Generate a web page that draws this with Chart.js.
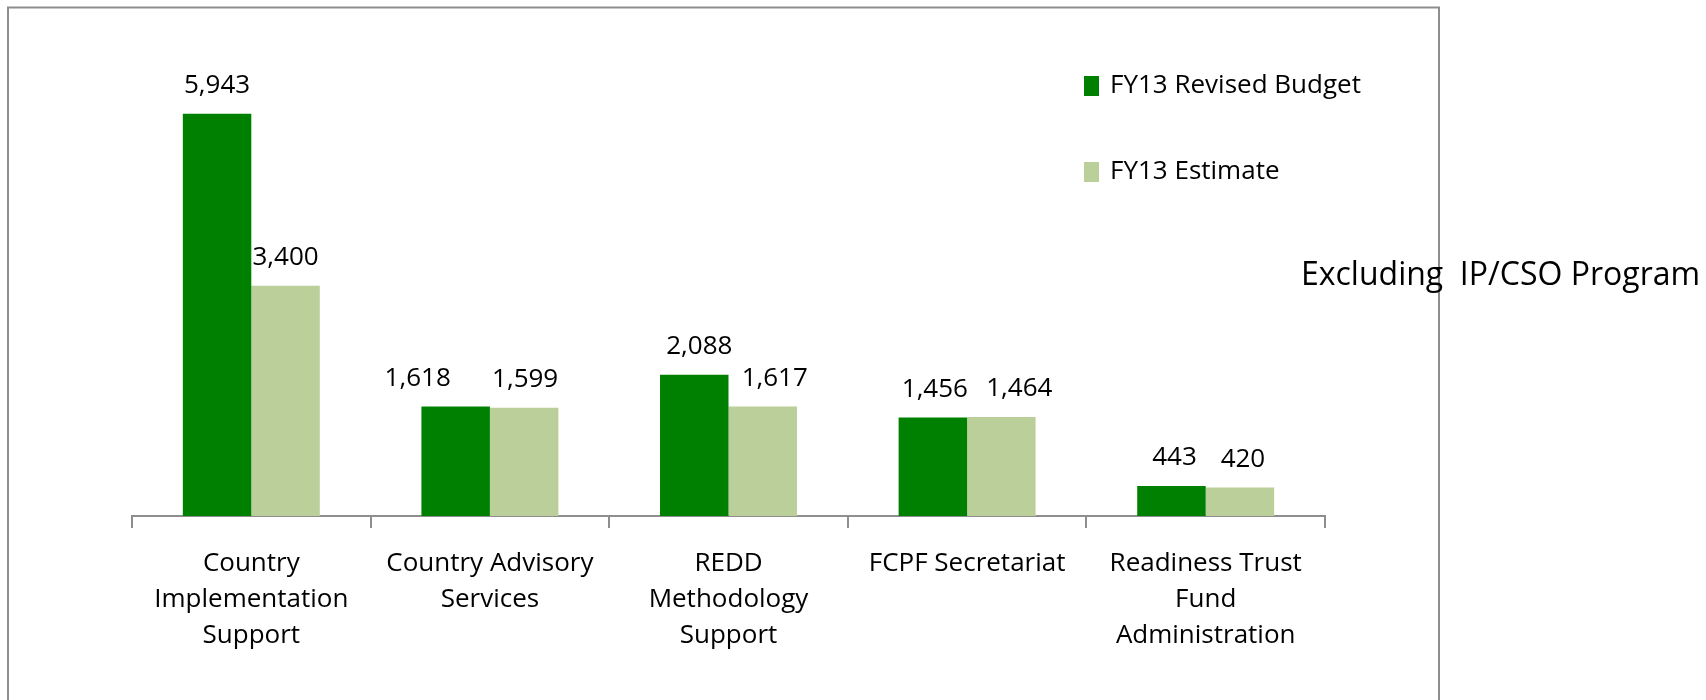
<!DOCTYPE html>
<html>
<head>
<meta charset="utf-8">
<script src="https://cdn.jsdelivr.net/npm/chart.js@4.4.1/dist/chart.umd.min.js"></script>
<style>
  html, body { margin: 0; padding: 0; background: #ffffff; }
  #wrap { position: relative; width: 1706px; height: 700px; }
</style>
</head>
<body>
<div id="wrap"><canvas id="c" width="1706" height="700"></canvas></div>
<script>
// ---- data ----
const categories = [
  ['Country', 'Implementation', 'Support'],
  ['Country Advisory', 'Services'],
  ['REDD', 'Methodology', 'Support'],
  ['FCPF Secretariat'],
  ['Readiness Trust', 'Fund', 'Administration']
];
const seriesNames = ['FY13 Revised Budget', 'FY13 Estimate'];
const revisedBudget = [5943, 1618, 2088, 1456, 443];
const estimate = [3400, 1599, 1617, 1464, 420];
const noteText = 'Excluding  IP/CSO Program';

// ---- style ----
const FONT = "'Open Sans', 'DejaVu Sans', sans-serif";
const colors = ['#008000', '#BBCF9A'];
// horizontal nudges of value labels (px), to mimic the original label placement
const labelNudge = [[0, -38, 5, 2, 3], [0, 1, 12, 18, 3]];

const bgFrame = {
  id: 'bgFrame',
  beforeDraw(chart) {
    const ctx = chart.ctx;
    ctx.save();
    ctx.fillStyle = '#ffffff';
    ctx.fillRect(0, 0, chart.width, chart.height);
    ctx.strokeStyle = '#8e8e8e';
    ctx.lineWidth = 2;
    ctx.strokeRect(8, 7.5, 1431, 720);
    ctx.restore();
  }
};

const valueLabels = {
  id: 'valueLabels',
  afterDatasetsDraw(chart) {
    const ctx = chart.ctx;
    ctx.save();
    ctx.font = '26px ' + FONT;
    ctx.fillStyle = '#000000';
    ctx.textAlign = 'center';
    ctx.textBaseline = 'middle';
    chart.data.datasets.forEach((ds, di) => {
      const meta = chart.getDatasetMeta(di);
      meta.data.forEach((bar, i) => {
        const v = ds.data[i];
        ctx.fillText(v.toLocaleString('en-US'), bar.x + labelNudge[di][i], bar.y - 28);
      });
    });
    ctx.restore();
  }
};

const sideLegend = {
  id: 'sideLegend',
  afterDraw(chart) {
    const ctx = chart.ctx;
    ctx.save();
    ctx.font = '26px ' + FONT;
    ctx.textBaseline = 'middle';
    ctx.textAlign = 'left';
    const x0 = 1084, ys = [86, 172];
    chart.data.datasets.forEach((ds, i) => {
      ctx.fillStyle = ds.backgroundColor;
      ctx.fillRect(x0, ys[i] - 10, 15, 20);
      ctx.fillStyle = '#000000';
      ctx.fillText(ds.label, x0 + 26, ys[i]);
    });
    ctx.font = '32px ' + FONT;
    ctx.fillText(noteText, 1301, 276);
    ctx.restore();
  }
};

new Chart(document.getElementById('c'), {
  type: 'bar',
  data: {
    labels: categories,
    datasets: [
      { label: seriesNames[0], data: revisedBudget, backgroundColor: colors[0] },
      { label: seriesNames[1], data: estimate, backgroundColor: colors[1] }
    ]
  },
  options: {
    responsive: false,
    animation: false,
    devicePixelRatio: 1,
    layout: { padding: { left: 132, right: 381, top: 76, bottom: 0 } },
    datasets: { bar: { categoryPercentage: 0.574, barPercentage: 1.0, borderWidth: 0 } },
    plugins: { legend: { display: false }, tooltip: { enabled: false }, title: { display: false } },
    scales: {
      x: {
        afterFit(scale) { scale.height = 184; },
        grid: { display: true, drawOnChartArea: false, drawTicks: true, tickLength: 12, color: '#8e8e8e', lineWidth: 2, offset: true },
        border: { display: true, color: '#8e8e8e', width: 2 },
        ticks: { color: '#000000', font: { family: FONT, size: 26, lineHeight: 1.4 }, padding: 17, maxRotation: 0, autoSkip: false }
      },
      y: {
        display: false,
        min: 0,
        max: 6500
      }
    }
  },
  plugins: [bgFrame, valueLabels, sideLegend]
});
</script>
</body>
</html>
